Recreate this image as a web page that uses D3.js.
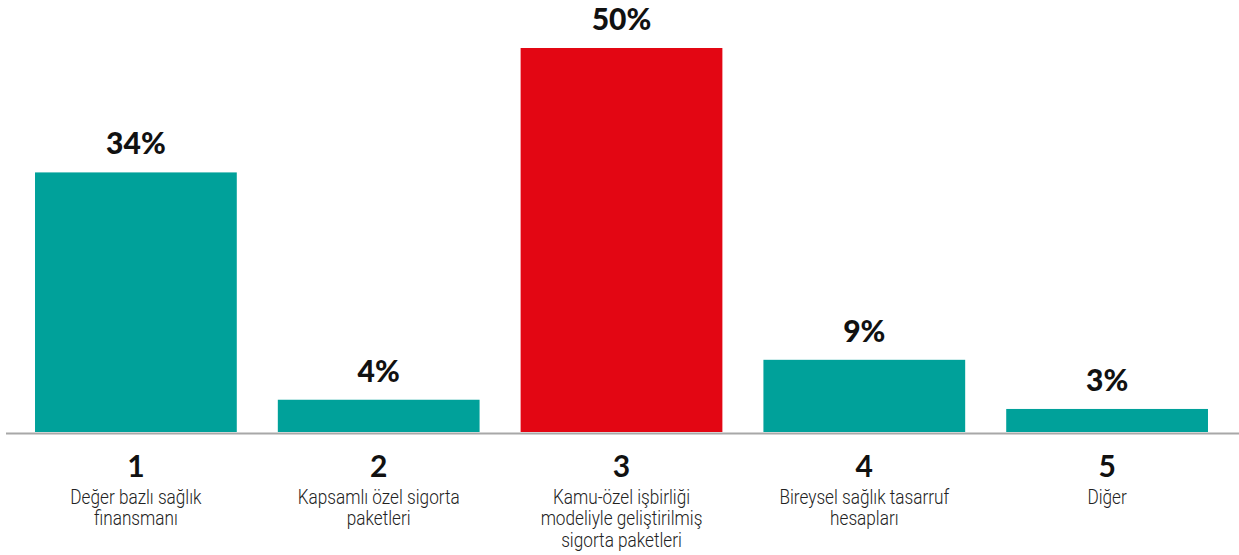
<!DOCTYPE html>
<html><head><meta charset="utf-8">
<script src="https://cdn.jsdelivr.net/npm/d3@7"></script>
<style>body{margin:0;background:#fff}svg{display:block}</style>
</head><body><svg id="c" width="1239" height="555"></svg>
<script>
const numbers = ["1","2","3","4","5"];
const categories = [
  ["Değer bazlı sağlık","finansmanı"],
  ["Kapsamlı özel sigorta","paketleri"],
  ["Kamu-özel işbirliği","modeliyle geliştirilmiş","sigorta paketleri"],
  ["Bireysel sağlık tasarruf","hesapları"],
  ["Diğer"]
];
const values = [33.8, 4.2, 50, 9.4, 3.0];
const valueLabels = ["34%","4%","50%","9%","3%"];
const highlight = [false, false, true, false, false];

const svg = d3.select("#c");
const baseY = 432;
const x = d3.scaleBand().domain(numbers).range([14.5, 1228.5]).paddingInner(0.169).paddingOuter(0.0845);
const y = d3.scaleLinear().domain([0, 50]).range([baseY, 48]);

svg.append("g").selectAll("rect").data(values).join("rect")
  .attr("x", (d,i)=>x(numbers[i])).attr("width", x.bandwidth())
  .attr("y", d=>y(d)).attr("height", d=>baseY - y(d))
  .attr("fill", (d,i)=>highlight[i] ? "#E30613" : "#00A19A");

svg.append("line").attr("x1",6).attr("x2",1239).attr("y1",433.5).attr("y2",433.5)
  .attr("stroke","#a8a8a8").attr("stroke-width",2);

svg.append("g").selectAll("text").data(values).join("text")
  .attr("x",(d,i)=>x(numbers[i])+x.bandwidth()/2).attr("y",d=>y(d)-18)
  .attr("text-anchor","middle").attr("font-family","Lato, sans-serif")
  .attr("font-weight","900").attr("font-size",30).attr("fill","#111")
  .text((d,i)=>valueLabels[i]);

const lab = svg.append("g").selectAll("g").data(numbers).join("g")
  .attr("transform",d=>`translate(${x(d)+x.bandwidth()/2},0)`);
lab.append("text").attr("y",477).attr("text-anchor","middle")
  .attr("font-family","Lato, sans-serif").attr("font-weight","700").attr("font-size",30).attr("fill","#111").text(d=>d);
lab.append("g").attr("transform","scale(0.86,1)").each(function(d,i){
  const t = d3.select(this).append("text").attr("text-anchor","middle")
    .attr("font-family","Roboto, sans-serif").attr("font-weight","300").attr("font-size",20).attr("fill","#222");
  categories[i].forEach((s,j)=>t.append("tspan").attr("x",0).attr("y",504+j*21.5).text(s));
});
</script></body></html>
